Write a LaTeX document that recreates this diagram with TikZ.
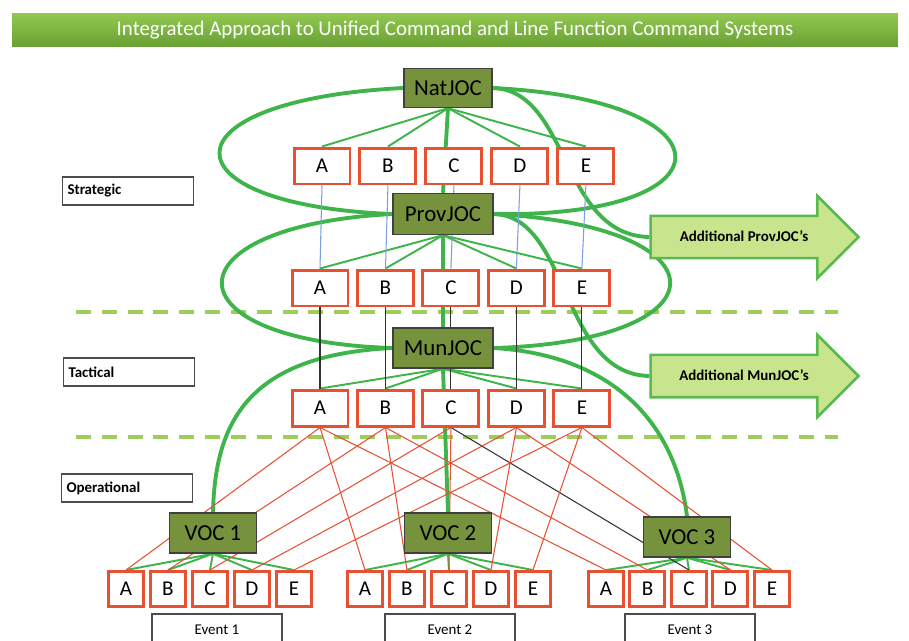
\documentclass[tikz,border=0pt]{standalone}
\usepackage{fontspec}
\setmainfont{Carlito}
\usetikzlibrary{positioning, shapes.arrows, backgrounds}

\definecolor{olivebox}{RGB}{118,146,60}
\definecolor{redbox}{RGB}{232,80,50}
\definecolor{linkgreen}{RGB}{62,180,74}
\definecolor{tiergreen}{RGB}{160,205,90}
\definecolor{arrowfill}{RGB}{200,228,140}
\definecolor{arrowline}{RGB}{88,186,80}
\definecolor{bluelink}{RGB}{120,160,220}
\definecolor{titletop}{RGB}{146,200,80}
\definecolor{titlebottom}{RGB}{104,160,52}

\tikzset{
  titlebar/.style={minimum width=17.72cm, minimum height=0.66cm, top color=titletop,
    bottom color=titlebottom, text=white, font=\fontsize{11.9}{13}\selectfont},
  joc/.style={draw=black!75, line width=0.8pt, fill=olivebox, minimum height=0.78cm,
    font=\fontsize{13}{15}\selectfont},
  letter/.style={draw=redbox, line width=1.7pt, fill=white, minimum width=1.12cm,
    minimum height=0.72cm, font=\fontsize{12}{14}\selectfont},
  subbox/.style={letter, minimum width=0.7cm, minimum height=0.7cm},
  tier/.style={draw=black!70, line width=0.8pt, fill=white, text width=2.42cm,
    inner xsep=0.1cm, minimum height=0.56cm, align=left,
    font=\bfseries\fontsize{8.5}{10}\selectfont},
  eventbox/.style={draw=black!70, line width=0.8pt, fill=white, minimum width=2.6cm,
    minimum height=0.64cm, font=\fontsize{8.5}{10}\selectfont},
  more/.style={single arrow, single arrow head extend=0.4cm, single arrow head indent=0pt,
    draw=arrowline, line width=1.5pt, fill=arrowfill, minimum height=4.16cm,
    text height=6pt, text depth=1pt, inner ysep=7.8pt,
    font=\bfseries\fontsize{8.5}{10}\selectfont},
  tierline/.style={tiergreen, line width=2.3pt, dash pattern=on 8.5pt off 6.2pt},
  bigcurve/.style={linkgreen, line width=2.2pt},
  fan/.style={linkgreen, line width=1.1pt},
  redlink/.style={redbox, line width=0.6pt},
}

\begin{document}
\begin{tikzpicture}[x=0.02cm, y=-0.02cm]
  \useasboundingbox (0,0) rectangle (909,640);

  \node[titlebar] (title) at (455,30)
    {Integrated Approach to Unified Command and Line Function Command Systems};

  % tiers
  \node[tier] (strat) at (128,191) {Strategic};
  \node[tier] (tact)  at (129,372) {Tactical};
  \node[tier] (oper)  at (127,488) {Operational};

  % command centres
  \node[joc, minimum width=1.76cm]                          (nat)  at (448,88)  {NatJOC};
  \node[joc, minimum width=2cm, minimum height=0.82cm]      (prov) at (443,214) {ProvJOC};
  \node[joc, minimum width=2cm, minimum height=0.8cm]       (mun)  at (443,348) {MunJOC};
  \node[joc, minimum width=1.74cm, minimum height=0.8cm]    (voc1) at (213,533) {VOC 1};
  \node[joc, minimum width=1.74cm, minimum height=0.8cm]    (voc2) at (448,533) {VOC 2};
  \node[joc, minimum width=1.74cm, minimum height=0.8cm]    (voc3) at (687,537) {VOC 3};

  % national functions
  \node[letter]                    (na) at (322,166) {A};
  \node[letter, right=0.14cm of na] (nb) {B};
  \node[letter, right=0.14cm of nb] (nc) {C};
  \node[letter, right=0.14cm of nc] (nd) {D};
  \node[letter, right=0.14cm of nd] (ne) {E};
  % provincial functions
  \node[letter]                    (pa) at (320,288) {A};
  \node[letter, right=0.13cm of pa] (pb) {B};
  \node[letter, right=0.13cm of pb] (pc) {C};
  \node[letter, right=0.13cm of pc] (pd) {D};
  \node[letter, right=0.13cm of pd] (pe) {E};
  % municipal functions
  \node[letter]                    (ma) at (320,408) {A};
  \node[letter, right=0.13cm of ma] (mb) {B};
  \node[letter, right=0.13cm of mb] (mc) {C};
  \node[letter, right=0.13cm of mc] (md) {D};
  \node[letter, right=0.13cm of md] (me) {E};

  % event functions
  \node[subbox]                      (v1a) at (126,589) {A};
  \node[subbox, right=0.08cm of v1a] (v1b) {B};
  \node[subbox, right=0.08cm of v1b] (v1c) {C};
  \node[subbox, right=0.08cm of v1c] (v1d) {D};
  \node[subbox, right=0.08cm of v1d] (v1e) {E};
  \node[subbox]                      (v2a) at (365,589) {A};
  \node[subbox, right=0.08cm of v2a] (v2b) {B};
  \node[subbox, right=0.08cm of v2b] (v2c) {C};
  \node[subbox, right=0.08cm of v2c] (v2d) {D};
  \node[subbox, right=0.08cm of v2d] (v2e) {E};
  \node[subbox]                      (v3a) at (606,589) {A};
  \node[subbox, right=0.07cm of v3a] (v3b) {B};
  \node[subbox, right=0.07cm of v3b] (v3c) {C};
  \node[subbox, right=0.07cm of v3c] (v3d) {D};
  \node[subbox, right=0.07cm of v3d] (v3e) {E};

  \begin{scope}
    \clip (0,0) rectangle (909,640);
    \node[eventbox] (ev1) at (217,630) {Event 1};
    \node[eventbox] (ev2) at (450,630) {Event 2};
    \node[eventbox] (ev3) at (690,630) {Event 3};
  \end{scope}

  % spill-over
  \node[more] (addprov) at (744,237) {Additional ProvJOC's};
  \node[more] (addmun)  at (744,376) {Additional MunJOC's};

  \begin{scope}[on background layer]
    \draw[tierline] (76,312) -- (838,312);
    \draw[tierline] (76,437) -- (838,437);

    \path[bigcurve]
      (nat.south)  edge (prov.north)
      (prov.south) edge (mun.north)
      (mun.south)  edge (voc2.north);
    \draw[bigcurve] (nat.west)  .. controls (160,100) and (160,205) .. (prov.west);
    \draw[bigcurve] (nat.east)  .. controls (736,100) and (736,218) .. (prov.east);
    \draw[bigcurve] (prov.west) .. controls (165,226) and (165,341) .. (mun.west);
    \draw[bigcurve] (prov.east) .. controls (729,226) and (729,341) .. (mun.east);
    \draw[bigcurve] (nat.east)  .. controls (570,90) and (560,235) .. (addprov.west);
    \draw[bigcurve] (prov.east) .. controls (570,216) and (560,374) .. (addmun.west);
    \draw[bigcurve] (mun.west)  .. controls (250,355) and (215,420) .. (voc1.north);
    \draw[bigcurve] (mun.east)  .. controls (610,355) and (675,420) .. (voc3.north);

    \path[fan]
      (nat.south)  edge (na.north)  (nat.south)  edge (nb.north)
      (nat.south)  edge (nd.north)  (nat.south)  edge (ne.north)
      (prov.south) edge (pa.north)  (prov.south) edge (pb.north)
      (prov.south) edge (pd.north)  (prov.south) edge (pe.north)
      (mun.south)  edge (ma.north)  (mun.south)  edge (mb.north)
      (mun.south)  edge (md.north)  (mun.south)  edge (me.north)
      (voc1.south) edge (v1a.north) (voc1.south) edge (v1b.north)
      (voc1.south) edge (v1c.north) (voc1.south) edge (v1d.north)
      (voc1.south) edge (v1e.north)
      (voc2.south) edge (v2a.north) (voc2.south) edge (v2b.north)
      (voc2.south) edge (v2c.north) (voc2.south) edge (v2d.north)
      (voc2.south) edge (v2e.north)
      (voc3.south) edge (v3a.north) (voc3.south) edge (v3b.north)
      (voc3.south) edge (v3c.north) (voc3.south) edge (v3d.north)
      (voc3.south) edge (v3e.north);

    \path[bluelink, line width=0.6pt]
      (na.south) edge (pa.north)  (nb.south) edge (pb.north)
      (nc.south) edge (pc.north)  (nd.south) edge (pd.north)
      (ne.south) edge (pe.north);
    \path[black!80, line width=0.6pt]
      (pa.south) edge (ma.north)  (pb.south) edge (mb.north)
      (pc.south) edge (mc.north)  (pd.south) edge (md.north)
      (pe.south) edge (me.north)
      (mc.south) edge (v3c.north);

    \path[redlink]
      (ma.south) edge (v1a.north) (ma.south) edge (v2a.north) (ma.south) edge (v3a.north)
      (mb.south) edge (v1b.north) (mb.south) edge (v2b.north) (mb.south) edge (v3b.north)
      (mc.south) edge (v1c.north) (mc.south) edge (v2c.north)
      (md.south) edge (v1d.north) (md.south) edge (v2d.north) (md.south) edge (v3d.north)
      (me.south) edge (v1e.north) (me.south) edge (v2e.north) (me.south) edge (v3e.north);
  \end{scope}
\end{tikzpicture}
\end{document}
